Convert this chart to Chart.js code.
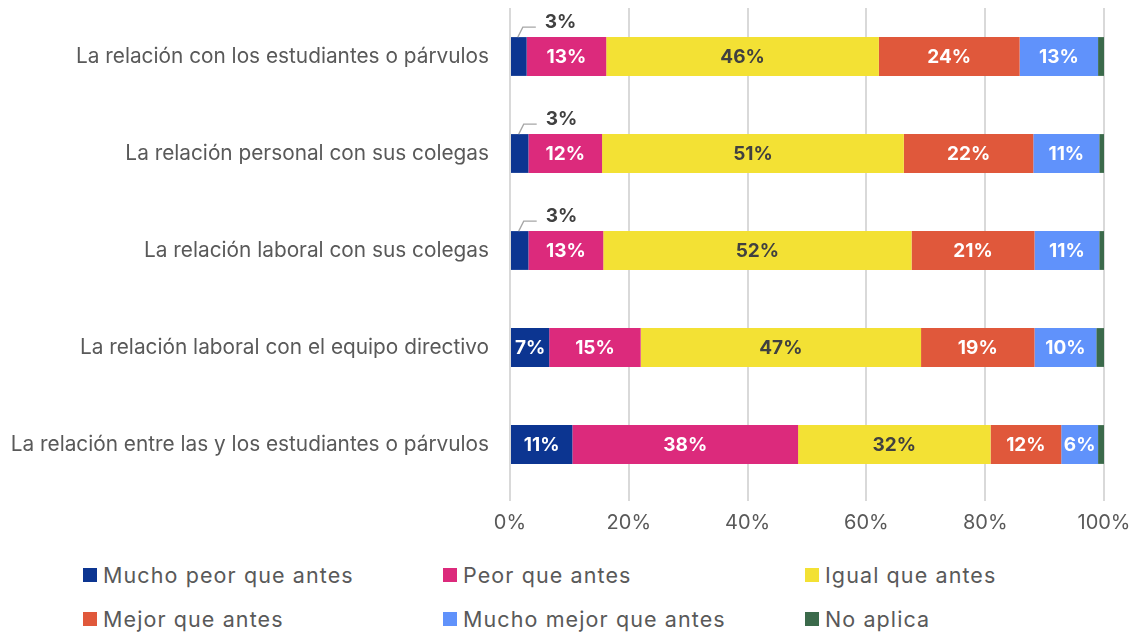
<!DOCTYPE html>
<html>
<head>
<meta charset="utf-8">
<script src="https://cdn.jsdelivr.net/npm/chart.js@4"></script>
<style>
  body { margin: 0; background: #fff; font-family: Inter, "Noto Sans", sans-serif; }
  #wrap { position: relative; width: 1135px; height: 545px; }
  #legend { display: grid; grid-template-columns: 360px 362px 330px; padding-left: 83px; row-gap: 18px; margin-top: 17px; }
  .item { display: flex; align-items: center; font-size: 21.5px; letter-spacing: 1.1px; color: #595959; }
  .box { width: 14px; height: 14px; margin-right: 6px; }
</style>
</head>
<body>
<div id="wrap"><canvas id="chart"></canvas></div>
<div id="legend"></div>
<script>
// categories and series (percent)
const categories = [
  'La relación con los estudiantes o párvulos',
  'La relación personal con sus colegas',
  'La relación laboral con sus colegas',
  'La relación laboral con el equipo directivo',
  'La relación entre las y los estudiantes o párvulos'
];
const seriesNames = ['Mucho peor que antes', 'Peor que antes', 'Igual que antes', 'Mejor que antes', 'Mucho mejor que antes', 'No aplica'];
const muchoPeor  = [2.8, 3.1, 3.1, 6.6, 10.5];
const peor       = [13.4, 12.4, 12.6, 15.4, 38.0];
const igual      = [45.9, 50.8, 51.9, 47.2, 32.4];
const mejor      = [23.7, 21.8, 20.7, 19.1, 11.9];
const muchoMejor = [13.2, 11.1, 10.9, 10.4, 6.2];
const noAplica   = [1.0, 0.8, 0.8, 1.3, 1.0];
const xTicks = [0, 20, 40, 60, 80, 100];

const colors = ['#0c3591', '#dc2a7c', '#f3e134', '#e0583b', '#6092fb', '#3b6a4b'];
const labelColors = ['#fff', '#fff', '#404040', '#fff', '#fff', null];
const allSeries = [muchoPeor, peor, igual, mejor, muchoMejor, noAplica];

// draws the % labels inside bars, small ones go above with a leader line
const barLabels = {
  id: 'barLabels',
  afterDatasetsDraw(chart) {
    const ctx = chart.ctx;
    ctx.save();
    ctx.font = 'bold 19px Inter, sans-serif';
    ctx.textBaseline = 'middle';
    chart.data.datasets.forEach((ds, i) => {
      if (!labelColors[i]) return;
      chart.getDatasetMeta(i).data.forEach((bar, j) => {
        const v = ds.data[j];
        const txt = Math.round(v) + '%';
        const left = bar.base, right = bar.x;
        if (right - left < 28) {
          // callout
          const top = bar.y - bar.height / 2;
          const cx = (left + right) / 2;
          ctx.strokeStyle = '#a6a6a6';
          ctx.lineWidth = 1.3;
          ctx.beginPath();
          ctx.moveTo(cx - 1, top);
          ctx.lineTo(cx + 4, top - 10);
          ctx.lineTo(cx + 17, top - 10);
          ctx.stroke();
          ctx.fillStyle = '#404040';
          ctx.textAlign = 'left';
          ctx.fillText(txt, cx + 26, top - 15);
        } else {
          ctx.fillStyle = labelColors[i];
          ctx.textAlign = 'center';
          ctx.fillText(txt, (left + right) / 2, bar.y + 1);
        }
      });
    });
    ctx.restore();
  }
};

const data = {
  labels: categories,
  datasets: allSeries.map((s, i) => ({
    label: seriesNames[i],
    data: s,
    backgroundColor: colors[i],
    borderWidth: 0,
    barPercentage: 0.4,
    categoryPercentage: 1
  }))
};

const options = {
  indexAxis: 'y',
  responsive: true,
  maintainAspectRatio: false,
  animation: false,
  layout: { padding: { top: 8, right: 31, left: 0 } },
  scales: {
    x: {
      stacked: true,
      min: 0,
      max: 100,
      afterBuildTicks: axis => { axis.ticks = xTicks.map(v => ({ value: v })); },
      afterFit: axis => { axis.paddingLeft = 0; axis.paddingRight = 0; },
      grid: { color: '#d9d9d9', lineWidth: 2, tickLength: 8, drawTicks: true },
      border: { display: false },
      ticks: {
        color: '#595959',
        font: { family: 'Inter', size: 20 },
        padding: 10,
        callback: v => v + '%'
      }
    },
    y: {
      stacked: true,
      afterFit: axis => { axis.paddingTop = 0; axis.paddingBottom = 0; axis.width = 510; },
      grid: { display: false, drawTicks: false },
      border: { display: false },
      ticks: {
        color: '#595959',
        font: { family: 'Inter', size: 20.8 },
        padding: 21
      }
    }
  },
  plugins: {
    legend: { display: false },
    tooltip: { enabled: false }
  }
};

function makeChart(canvas, type, data, options) {
  const ctx = canvas.getContext('2d');
  return new Chart(ctx, { type: type, data: data, options: options, plugins: [barLabels] });
}

makeChart(document.getElementById('chart'), 'bar', data, options);

// legend as 3 column grid
const legendEl = document.getElementById('legend');
seriesNames.forEach((name, i) => {
  const item = document.createElement('div');
  item.className = 'item';
  item.innerHTML = '<span class="box" style="background:' + colors[i] + '"></span>' + name;
  legendEl.appendChild(item);
});
</script>
</body>
</html>
